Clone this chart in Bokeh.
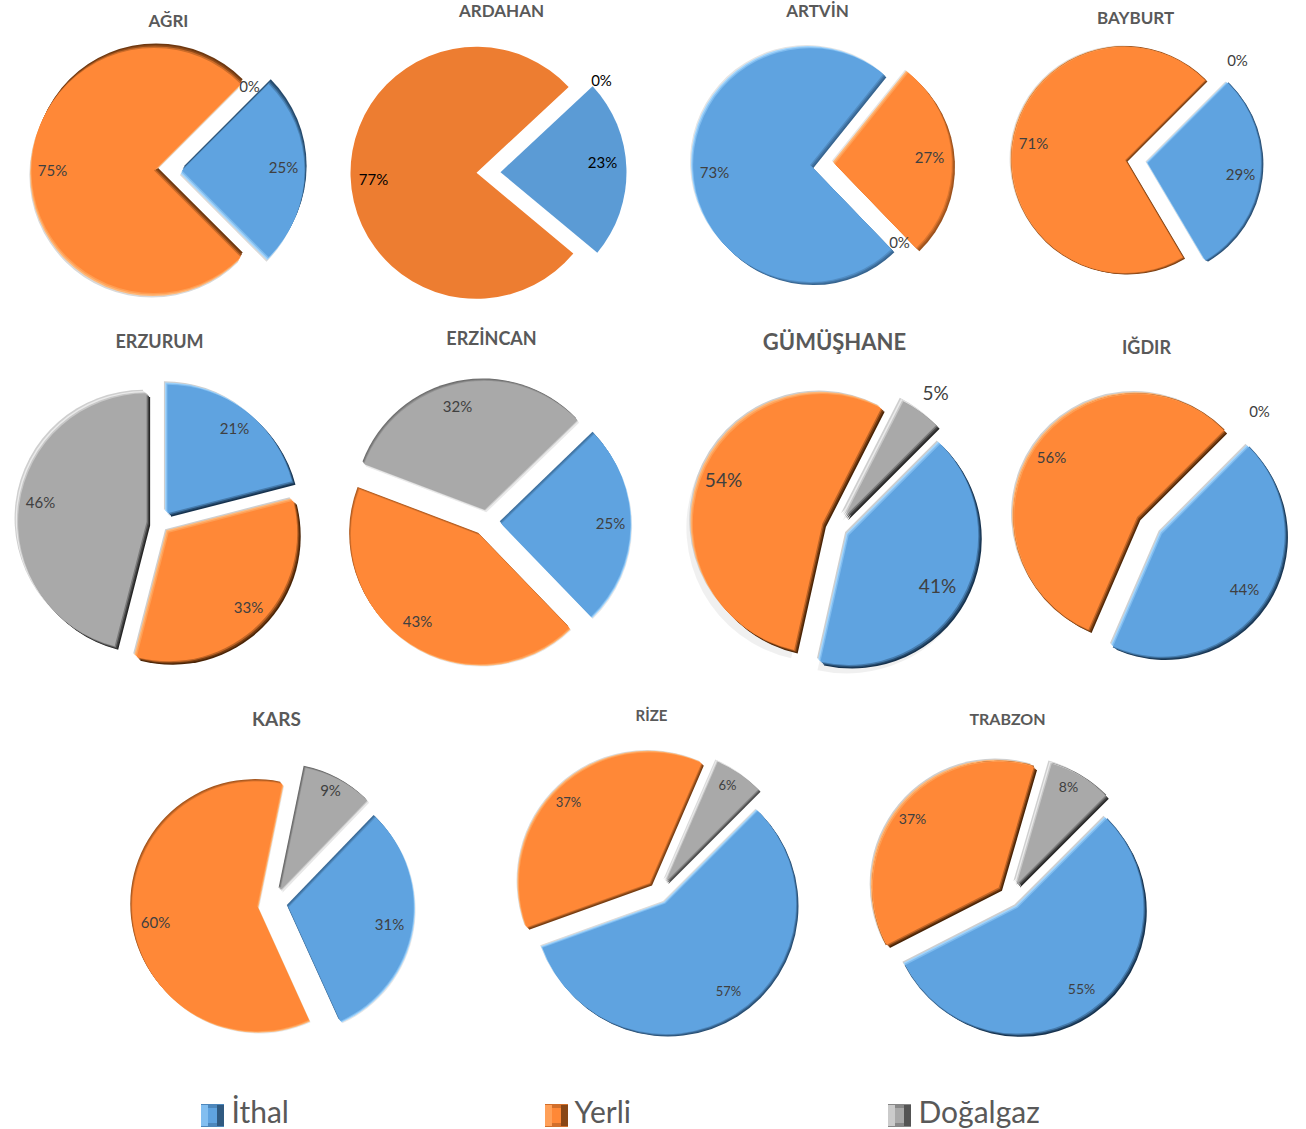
import math
from bokeh.plotting import figure
from bokeh.models import Range1d, ColumnDataSource
from bokeh.core.properties import value
from bokeh.embed import file_html
from bokeh.resources import INLINE

# ---------- data ----------
provinces = ["AĞRI", "ARDAHAN", "ARTVİN", "BAYBURT", "ERZURUM", "ERZİNCAN", "GÜMÜŞHANE",
             "IĞDIR", "KARS", "RİZE", "TRABZON"]
ithal = [25, 23, 73, 29, 21, 25, 41, 44, 31, 57, 55]
yerli = [75, 77, 27, 71, 33, 43, 54, 56, 60, 37, 37]
dogalgaz = [0, 0, 0, 0, 46, 32, 5, 0, 9, 6, 8]
series_names = ["İthal", "Yerli", "Doğalgaz"]

# ---------- layout & style (image pixels) ----------
W, H = 1306, 1129
# cx, cy, r, explode, start angle (deg, slices run clockwise), light dir (deg), depth, strength
PIES = {
    "AĞRI":      (167.5, 170, 126, 14,    45, -115, 5.0, 0.80),
    "ARDAHAN":   (488,   172, 126, 12,    43,    0, 0.0, 0.00),
    "ARTVİN":    (822,   164, 120, 12.5, -46,  135, 4.5, 0.55),
    "BAYBURT":   (1136,  161, 115, 11.5,  45,  150, 2.8, 0.75),
    "ERZURUM":   (159,   523, 132, 13,    90,  135, 5.0, 1.00),
    "ERZİNCAN":  (487,   523, 131, 14,    44,  -55, 3.0, 0.45),
    "GÜMÜŞHANE": (835.5, 528, 133, 14.5,  45,  135, 5.0, 1.00),
    "IĞDIR":     (1149,  525, 126, 15,    45,  135, 4.6, 0.95),
    "KARS":      (272.5, 904, 127, 16,    46,  -50, 3.0, 0.50),
    "RİZE":      (658,   892, 133, 13,    45,  135, 3.4, 0.75),
    "TRABZON":   (1009,  896, 129, 14,    45,  135, 4.6, 1.00),
}
RINGED = ("BAYBURT", "IĞDIR", "TRABZON")
TITLE_POS = {
    "AĞRI": (168, 20, 17), "ARDAHAN": (501, 10, 17), "ARTVİN": (817, 10, 17), "BAYBURT": (1135, 17, 17),
    "ERZURUM": (159, 340, 18), "ERZİNCAN": (491, 337, 18), "GÜMÜŞHANE": (834, 341, 22), "IĞDIR": (1146, 346, 18),
    "KARS": (276, 718, 19), "RİZE": (651, 714, 15), "TRABZON": (1007, 718, 16),
}
# label centres for [İthal, Yerli, Doğalgaz], font size
LABEL_POS = {
    "AĞRI":      ([(283, 166), (52, 169), (249, 85)], 15),
    "ARDAHAN":   ([(602, 161), (373, 178), (601, 79)], 15),
    "ARTVİN":    ([(714, 171), (929, 156), (899, 241)], 15),
    "BAYBURT":   ([(1240, 173), (1033, 142), (1237, 59)], 15),
    "ERZURUM":   ([(234, 427), (248, 606), (40, 501)], 15),
    "ERZİNCAN":  ([(610, 522), (417, 620), (457, 405)], 15),
    "GÜMÜŞHANE": ([(937, 585), (723, 479), (935, 392)], 19),
    "IĞDIR":     ([(1244, 588), (1051, 456), (1259, 410)], 15),
    "KARS":      ([(389, 923), (155, 921), (330, 789)], 15),
    "RİZE":      ([(728, 990), (568, 801), (727, 784)], 13),
    "TRABZON":   ([(1081, 988), (912, 818), (1068, 786)], 14),
}
MAIN = ["#5FA3E0", "#FF8837", "#A9A9A9"]
FLAT = ["#5B9BD5", "#ED7D31", "#A5A5A5"]
LIGHT = ["#A6D8FF", "#FFB878", "#EDEDED"]
DARK = ["#16324E", "#4A2406", "#262626"]
RIM = "#CFCFCF"
LEG_X = [212, 556, 899]
LEG_TX = [231, 574, 918]
LEG_Y = 1110
FONT = "Lato"


def mix(a, b, t):
    ca = [int(a[i:i + 2], 16) for i in (1, 3, 5)]
    cb = [int(b[i:i + 2], 16) for i in (1, 3, 5)]
    return "#%02X%02X%02X" % tuple(round(x + (y - x) * t) for x, y in zip(ca, cb))


def Y(y):
    return H - y


p = figure(width=W, height=H, x_range=Range1d(0, W), y_range=Range1d(0, H),
           output_backend="svg", toolbar_location=None, min_border=0,
           outline_line_color=None, background_fill_color="white")
p.axis.visible = False
p.grid.visible = False

wx, wy, wr, ws, we, wc, wa = [], [], [], [], [], [], []


def add(x, y, r, a0, a1, color, alpha=1.0):
    wx.append(x); wy.append(Y(y)); wr.append(r)
    ws.append(math.radians(a0)); we.append(math.radians(a1))
    wc.append(color); wa.append(alpha)


for i, name in enumerate(provinces):
    cx, cy, r, e, start, light, d, s = PIES[name]
    vals = [ithal[i], yerli[i], dogalgaz[i]]
    total = sum(vals)
    ang = start
    lx, ly = math.cos(math.radians(light)), -math.sin(math.radians(light))
    for k, v in enumerate(vals):
        if v == 0:
            continue
        a1 = ang
        a0 = ang - v / total * 360
        ang = a0
        mid = math.radians((a0 + a1) / 2)
        ax = cx + e * math.cos(mid)
        ay = cy - e * math.sin(mid)
        if d == 0:
            add(ax, ay, r, a0, a1, FLAT[k])
            continue
        body = MAIN[k]
        dk = mix(body, DARK[k], s)
        rr = r - d * 0.7
        if name == "GÜMÜŞHANE":
            add(ax - 2, ay + 4, r + 1, a0, a1, "#000000", 0.06)
        add(ax + lx * d, ay + ly * d, rr, a0, a1, mix("#FFFFFF", RIM, s))
        add(ax - lx * d, ay - ly * d, rr, a0, a1, dk)
        add(ax + lx * d * 0.66, ay + ly * d * 0.66, rr, a0, a1, mix(body, LIGHT[k], 0.95))
        add(ax - lx * d * 0.66, ay - ly * d * 0.66, rr, a0, a1, mix(body, dk, 0.75))
        if name in RINGED:
            add(ax, ay, rr + 1, a0, a1, mix(body, DARK[k], 0.55))
        add(ax + lx * d * 0.33, ay + ly * d * 0.33, rr, a0, a1, mix(body, LIGHT[k], 0.45))
        add(ax - lx * d * 0.33, ay - ly * d * 0.33, rr, a0, a1, mix(body, dk, 0.35))
        add(ax, ay, rr, a0, a1, body)

p.wedge(x="x", y="y", radius="r", start_angle="s", end_angle="e", direction="anticlock",
        fill_color="c", fill_alpha="a", line_color=None,
        source=ColumnDataSource(dict(x=wx, y=wy, r=wr, s=ws, e=we, c=wc, a=wa)))

# titles and labels
for i, name in enumerate(provinces):
    tx, ty, fs = TITLE_POS[name]
    p.text([tx], [Y(ty)], text=[name], text_font=value(FONT), text_font_style="bold",
           text_font_size=f"{fs}px", text_color="#595959", text_align="center", text_baseline="middle")
    vals = [ithal[i], yerli[i], dogalgaz[i]]
    pos, fs = LABEL_POS[name]
    col = "#000000" if name == "ARDAHAN" else "#404040"
    for (lx_, ly_), v in zip(pos, vals):
        p.text([lx_], [Y(ly_)], text=[f"{v}%"], text_font=value(FONT), text_font_size=f"{fs}px",
               text_color=col, text_align="center", text_baseline="middle")

# legend
for k, nm in enumerate(series_names):
    x = LEG_X[k]
    y = Y(LEG_Y + 5)
    p.rect([x], [y], width=23, height=23, fill_color=mix(MAIN[k], DARK[k], 0.25), line_color=None)
    p.rect([x - 8], [y], width=7, height=21, fill_color=mix(MAIN[k], LIGHT[k], 0.5), line_color=None)
    p.rect([x + 8], [y], width=7, height=21, fill_color=mix(MAIN[k], DARK[k], 0.65), line_color=None)
    p.rect([x], [y], width=9, height=15, fill_color=MAIN[k], line_color=None)
    p.text([LEG_TX[k]], [Y(LEG_Y)], text=[nm], text_font=value(FONT), text_font_size="30px",
           text_color="#595959", text_align="left", text_baseline="middle")

open("out.html", "w").write(file_html(p, INLINE))
